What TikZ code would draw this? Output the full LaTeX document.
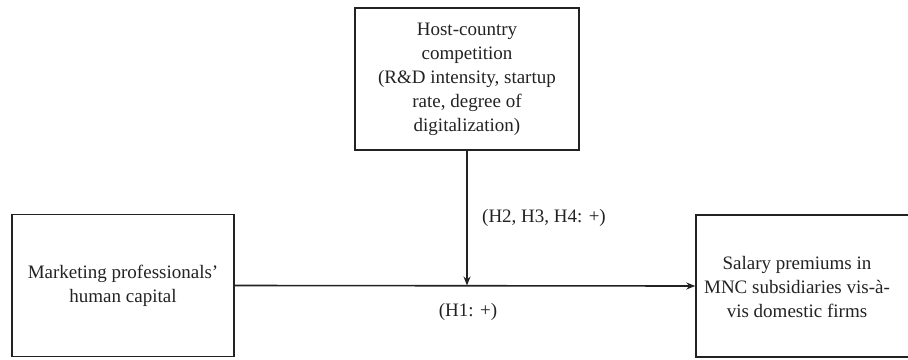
\documentclass[tikz,border=0pt]{standalone}
\usepackage{fontspec}
\setmainfont{Liberation Serif}
\usetikzlibrary{arrows.meta}
\definecolor{ink}{HTML}{222222}
\begin{document}
\begin{tikzpicture}[x=1pt,y=-1pt,
  boxnode/.style={draw=ink,line width=1.4pt,minimum width=#1,minimum height=142pt,
    align=center,inner sep=0pt,text=ink,font=\fontsize{19}{24}\selectfont},
  lbl/.style={text=ink,font=\fontsize{19}{24}\selectfont,inner sep=0pt},
  conn/.style={draw=ink,line width=1.6pt,-{Stealth[length=9pt,width=7pt]}}]
\clip (0,0) rectangle (908,359);
\useasboundingbox (0,0) rectangle (908,359);
\node[boxnode=224pt] (top) at (467,79) {Host-country\\competition\\(R\&D intensity, startup\\rate, degree of\\digitalization)};
\node[boxnode=222pt] (left) at (123,285.5) {Marketing professionals’\\human capital};
\node[boxnode=226pt] (right) at (809,286) {};
\node[lbl,align=center] (rtext) at (797,287) {Salary premiums in\\MNC subsidiaries vis-à-\\vis domestic firms};
\coordinate (j) at (top.south |- left.east);
\draw[conn] (left.east) -- (right.west);
\draw[conn] (top.south) -- (j);
\node[lbl] (h2) at (544,218) {(H2, H3, H4: +)};
\node[lbl] (h1) at (468,312) {(H1: +)};
\end{tikzpicture}
\end{document}
